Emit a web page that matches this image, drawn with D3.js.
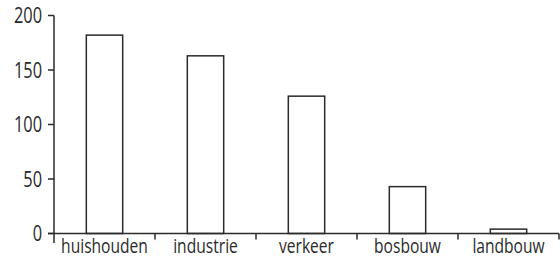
<!DOCTYPE html>
<html>
<head>
<meta charset="utf-8">
<script src="https://cdn.jsdelivr.net/npm/d3@7"></script>
<style>
  html, body { margin: 0; padding: 0; background: #fff; }
  svg text { font-family: "Open Sans", "Noto Sans", sans-serif; fill: #2a2a2a; }
</style>
</head>
<body>
<svg id="chart" width="560" height="259"></svg>
<script>
const categories = ["huishouden", "industrie", "verkeer", "bosbouw", "landbouw"];
const values = [182, 163, 126, 43, 4];
const yTicks = [0, 50, 100, 150, 200];

const svg = d3.select("#chart");
const ink = "#2a2a2a";
const squeeze = 0.78;

const x = d3.scaleBand().domain(categories).range([54, 559]).paddingInner(0.64).paddingOuter(0.32);
const xb = d3.scaleBand().domain(categories).range([54, 559]).padding(0);
const y = d3.scaleLinear().domain([0, 200]).range([233.5, 15.5]);

// bars
svg.append("g").selectAll("rect").data(categories).join("rect")
  .attr("x", d => x(d))
  .attr("y", (d, i) => y(values[i]))
  .attr("width", x.bandwidth())
  .attr("height", (d, i) => y(0) - y(values[i]))
  .attr("fill", "#fff")
  .attr("stroke", ink)
  .attr("stroke-width", 1.5);

// y axis ticks
svg.append("g").selectAll("line").data(yTicks).join("line")
  .attr("x1", 48).attr("x2", 54)
  .attr("y1", d => y(d)).attr("y2", d => y(d))
  .attr("stroke", ink).attr("stroke-width", 1.5);
svg.append("g").selectAll("g").data(yTicks).join("g")
  .attr("transform", d => `translate(42,${y(d)}) scale(${squeeze},1)`)
  .append("text")
  .attr("text-anchor", "end")
  .attr("dy", "0.36em")
  .attr("font-size", 21)
  .text(d => d);
svg.append("line").attr("x1", 54).attr("x2", 54).attr("y1", y(200)).attr("y2", 243)
  .attr("stroke", ink).attr("stroke-width", 1.5);

// x axis
svg.append("line").attr("x1", 48).attr("x2", 559).attr("y1", y(0)).attr("y2", y(0))
  .attr("stroke", ink).attr("stroke-width", 1.5);
svg.append("g").selectAll("line").data(categories).join("line")
  .attr("x1", d => xb(d) + xb.bandwidth())
  .attr("x2", d => xb(d) + xb.bandwidth())
  .attr("y1", y(0)).attr("y2", y(0) + 6)
  .attr("stroke", ink).attr("stroke-width", 1.5);
svg.append("g").selectAll("g").data(categories).join("g")
  .attr("transform", d => `translate(${xb(d) + xb.bandwidth() / 2},253) scale(${squeeze},1)`)
  .append("text")
  .attr("text-anchor", "middle")
  .attr("font-size", 20)
  .text(d => d);
</script>
</body>
</html>
